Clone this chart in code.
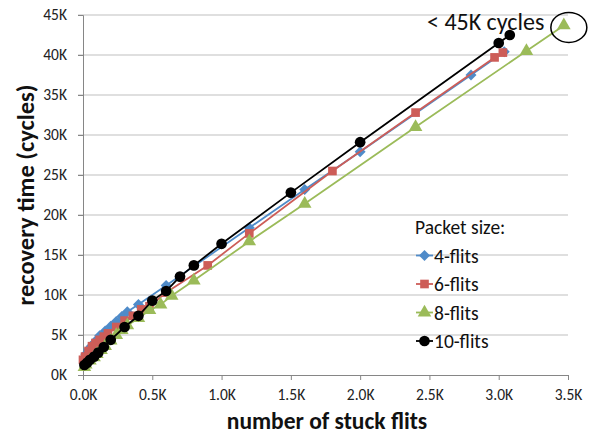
<!DOCTYPE html>
<html>
<head>
<meta charset="utf-8">
<script src="https://cdn.jsdelivr.net/npm/d3@7"></script>
<style>
  body { margin: 0; background: #fff; }
  svg { font-family: Carlito, Calibri, Lato, sans-serif; }
</style>
</head>
<body>
<div id="chart"></div>
<script>
// x in thousands of stuck flits, y in thousands of cycles
const flits4 = [
  [0.01, 2.0], [0.02, 2.6], [0.04, 3.2], [0.06, 3.6], [0.08, 4.0], [0.1, 4.4],
  [0.12, 4.9], [0.16, 5.5], [0.2, 6.1], [0.24, 6.7], [0.28, 7.3], [0.32, 7.9],
  [0.4, 8.8], [0.6, 11.2], [1.2, 18.4], [1.6, 23.2], [2.0, 27.9], [2.8, 37.5], [3.04, 40.4]
]
const flits6 = [
  [0.0, 1.9], [0.015, 2.3], [0.04, 3.0], [0.065, 3.6], [0.09, 4.0], [0.12, 4.4],
  [0.15, 4.8], [0.18, 5.2], [0.24, 6.0], [0.3, 6.8], [0.36, 7.4], [0.42, 8.2],
  [0.48, 8.6], [0.6, 10.3], [0.9, 13.7], [1.2, 17.7], [1.8, 25.5], [2.4, 32.8],
  [2.97, 39.7], [3.03, 40.3]
]
const flits8 = [
  [0.01, 1.0], [0.02, 1.3], [0.05, 1.8], [0.08, 2.2], [0.1, 2.6], [0.13, 3.1],
  [0.16, 3.6], [0.2, 4.3], [0.24, 5.0], [0.28, 5.6], [0.32, 6.2], [0.4, 7.1],
  [0.48, 8.1], [0.56, 8.8], [0.64, 9.9], [0.8, 11.8], [1.2, 16.7], [1.6, 21.4],
  [2.4, 31.0], [3.2, 40.5], [3.47, 43.7]
]
const flits10 = [
  [0.01, 1.25], [0.03, 1.55], [0.05, 1.9], [0.08, 2.3], [0.11, 2.8], [0.15, 3.5],
  [0.2, 4.4], [0.3, 6.0], [0.4, 7.4], [0.5, 9.3], [0.6, 10.5], [0.7, 12.3],
  [0.8, 13.7], [1.0, 16.4], [1.5, 22.8], [2.0, 29.1], [3.0, 41.5], [3.08, 42.5]
]

const seriesNames = ['4-flits', '6-flits', '8-flits', '10-flits']
const seriesColors = ['#4f8bc9', '#cd5d58', '#9bbb59', '#000000']
const xTicks = [0, 0.5, 1.0, 1.5, 2.0, 2.5, 3.0, 3.5]
const yTicks = [0, 5, 10, 15, 20, 25, 30, 35, 40, 45]
const noteText = '< 45K cycles'

const width = 593
const height = 434
const margin = { left: 83, right: 25, top: 15, bottom: 59 }

const svg = d3
  .select('#chart')
  .append('svg')
  .attr('width', width)
  .attr('height', height)

const x = d3
  .scaleLinear()
  .domain([0, 3.5])
  .range([margin.left, width - margin.right])

const y = d3
  .scaleLinear()
  .domain([0, 45])
  .range([height - margin.bottom, margin.top])

// gridlines
svg
  .append('g')
  .selectAll('line')
  .data(yTicks.slice(1))
  .enter()
  .append('line')
  .attr('x1', x(0) - 5)
  .attr('x2', x(3.5))
  .attr('y1', d => y(d))
  .attr('y2', d => y(d))
  .attr('stroke', '#bfbfbf')
  .attr('stroke-width', 1)

// axes
const xAxis = svg
  .append('g')
  .attr('transform', 'translate(0,' + y(0) + ')')
  .call(
    d3
      .axisBottom(x)
      .tickValues(xTicks)
      .tickSize(5)
      .tickPadding(9)
      .tickFormat(d => d3.format('.1f')(d) + 'K')
  )

const yAxis = svg
  .append('g')
  .attr('transform', 'translate(' + x(0) + ',0)')
  .call(
    d3
      .axisLeft(y)
      .tickValues(yTicks)
      .tickSize(5)
      .tickPadding(11)
      .tickFormat(d => d + 'K')
  )

;[xAxis, yAxis].forEach(function(g) {
  g.select('.domain').attr('stroke', '#868686')
  g.selectAll('.tick line').attr('stroke', '#868686')
  g.selectAll('.tick text')
    .attr('font-size', 15.5)
    .attr('fill', '#222')
    .style('font-family', 'Carlito, Calibri, Lato, sans-serif')
})

// axis titles
svg
  .append('text')
  .attr('x', 327)
  .attr('y', 428.5)
  .attr('text-anchor', 'middle')
  .attr('font-size', 23.5)
  .attr('font-weight', 'bold')
  .attr('fill', '#111')
  .text('number of stuck flits')

svg
  .append('text')
  .attr('transform', 'translate(34,' + 195 + ') rotate(-90)')
  .attr('text-anchor', 'middle')
  .attr('font-size', 24.5)
  .attr('font-weight', 'bold')
  .attr('fill', '#111')
  .text('recovery time (cycles)')

// square diamond, like the spreadsheet marker
const squareDiamond = {
  draw(context, size) {
    const r = Math.sqrt(size / 2)
    context.moveTo(0, -r)
    context.lineTo(r, 0)
    context.lineTo(0, r)
    context.lineTo(-r, 0)
    context.closePath()
  }
}

// series
const seriesData = [flits4, flits6, flits8, flits10]
const symbols = [squareDiamond, d3.symbolSquare, d3.symbolTriangle, d3.symbolCircle]
const symbolSizes = [60, 75, 80, 90]

const line = d3
  .line()
  .x(d => x(d[0]))
  .y(d => y(d[1]))

seriesData.forEach(function(data, i) {
  const g = svg.append('g').attr('class', 'series s' + i)
  g.append('path')
    .datum(data)
    .attr('d', line)
    .attr('fill', 'none')
    .attr('stroke', seriesColors[i])
    .attr('stroke-width', 1.8)
  g.selectAll('path.mark')
    .data(data)
    .enter()
    .append('path')
    .attr('class', 'mark')
    .attr('transform', d => 'translate(' + x(d[0]) + ',' + y(d[1]) + ')')
    .attr('d', d3.symbol().type(symbols[i]).size(symbolSizes[i]))
    .attr('fill', seriesColors[i])
})

// annotation
const last8 = flits8[flits8.length - 1]
svg
  .append('text')
  .attr('x', 427)
  .attr('y', 30)
  .attr('font-size', 24)
  .attr('fill', '#111')
  .text(noteText)

svg
  .append('ellipse')
  .attr('cx', x(last8[0]) + 5)
  .attr('cy', y(last8[1]) + 2)
  .attr('rx', 18)
  .attr('ry', 15)
  .attr('fill', 'none')
  .attr('stroke', '#000')
  .attr('stroke-width', 1.5)

// legend
const legend = svg.append('g').attr('transform', 'translate(415,234)')
legend
  .append('text')
  .attr('x', 0)
  .attr('y', 0)
  .attr('font-size', 19.5)
  .attr('fill', '#111')
  .text('Packet size:')

const items = legend
  .selectAll('g.item')
  .data(seriesNames)
  .enter()
  .append('g')
  .attr('class', 'item')
  .attr('transform', (d, i) => 'translate(0,' + (28.5 + i * 28.5) + ')')

items
  .append('line')
  .attr('x1', 1)
  .attr('x2', 18)
  .attr('y1', -7)
  .attr('y2', -7)
  .attr('stroke', (d, i) => seriesColors[i])
  .attr('stroke-width', 1.8)

items
  .append('path')
  .attr('transform', 'translate(9.5,-7)')
  .attr('d', (d, i) => d3.symbol().type(symbols[i]).size(symbolSizes[i])())
  .attr('fill', (d, i) => seriesColors[i])

items
  .append('text')
  .attr('x', 19)
  .attr('y', 0)
  .attr('font-size', 19.5)
  .attr('fill', '#111')
  .text(d => d)
</script>
</body>
</html>
